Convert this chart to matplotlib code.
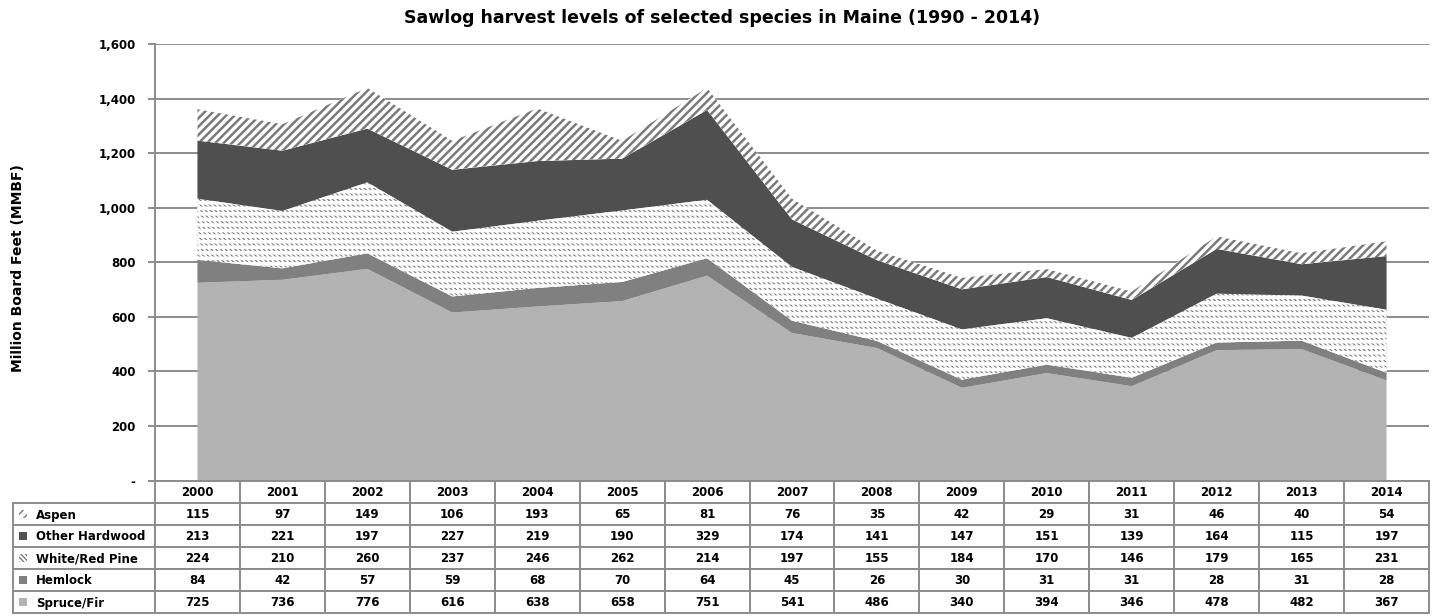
"""Sawlog harvest levels in Maine: stacked area chart with data table."""

import matplotlib

matplotlib.use("Agg")
import matplotlib.pyplot as plt
import numpy as np
from matplotlib.patches import Rectangle
from matplotlib.ticker import FuncFormatter

YEARS = ["2000", "2001", "2002", "2003", "2004", "2005", "2006", "2007",
         "2008", "2009", "2010", "2011", "2012", "2013", "2014"]
SPRUCE_FIR = [725, 736, 776, 616, 638, 658, 751, 541, 486, 340, 394, 346, 478, 482, 367]
HEMLOCK = [84, 42, 57, 59, 68, 70, 64, 45, 26, 30, 31, 31, 28, 31, 28]
WHITE_RED_PINE = [224, 210, 260, 237, 246, 262, 214, 197, 155, 184, 170, 146, 179, 165, 231]
OTHER_HARDWOOD = [213, 221, 197, 227, 219, 190, 329, 174, 141, 147, 151, 139, 164, 115, 197]
ASPEN = [115, 97, 149, 106, 193, 65, 81, 76, 35, 42, 29, 31, 46, 40, 54]

TITLE = "Sawlog harvest levels of selected species in Maine (1990 - 2014)"
Y_LABEL = "Million Board Feet (MMBF)"
Y_TICKS = [0, 200, 400, 600, 800, 1000, 1200, 1400, 1600]

W, H = 1445, 616
GRID = "#8c8c8c"
HATCH = "#7a7a7a"
FONT = "DejaVu Sans"
PINE_HATCH = "\\" * 7
ASPEN_HATCH = "////"

# bottom-to-top stacking order, table is listed top-to-bottom
layers = [
    ("Spruce/Fir", SPRUCE_FIR, dict(face="#b3b3b3", hatch=None, lw=0)),
    ("Hemlock", HEMLOCK, dict(face="#808080", hatch=None, lw=0)),
    ("White/Red Pine", WHITE_RED_PINE, dict(face="white", hatch=PINE_HATCH, lw=0.9)),
    ("Other Hardwood", OTHER_HARDWOOD, dict(face="#4f4f4f", hatch=None, lw=0)),
    ("Aspen", ASPEN, dict(face="white", hatch=ASPEN_HATCH, lw=1.8)),
]


def fx(px):
    return px / W


def fy(py):
    return 1 - py / H


def style_hatch(artist, hatch, color, lw):
    artist.set_hatch(hatch)
    artist.set_edgecolor(color)
    artist.set_linewidth(0)
    if hasattr(artist, "set_hatch_linewidth"):
        artist.set_hatch_linewidth(lw)


plt.rcParams["font.family"] = [FONT]
plt.rcParams["hatch.linewidth"] = 1.3

ax_left, ax_right, ax_top, ax_bottom = 155, 1429, 44, 480.6
fig = plt.figure(figsize=(W / 100, H / 100), dpi=100)
ax = fig.add_axes([fx(ax_left), fy(ax_bottom), fx(ax_right - ax_left),
                   (ax_bottom - ax_top) / H])

x = np.arange(len(YEARS))
series = [np.array(v) for _, v, _ in layers]
polys = ax.stackplot(x, *series, colors=[s["face"] for _, _, s in layers],
                     linewidth=0, zorder=2)
for poly, (_, _, st) in zip(polys, layers):
    poly.set_linewidth(0)
    if st["hatch"]:
        style_hatch(poly, st["hatch"], HATCH, st["lw"])

# break the pine diagonals into short dashes
tops = np.cumsum(series, axis=0)
cut = ax.fill_between(x, tops[1], tops[2], facecolor="none", zorder=3)
style_hatch(cut, "---", "white", 2.6)

ax.set_xlim(-0.5, len(YEARS) - 0.5)
ax.set_ylim(0, 1600)
ax.set_yticks(Y_TICKS)
ax.yaxis.set_major_formatter(FuncFormatter(lambda v, _: "-" if v == 0 else f"{int(v):,}"))
ax.set_xticks([])
ax.grid(axis="y", color=GRID, linewidth=1.4, zorder=0)
ax.set_axisbelow(True)
for side in ("top", "right", "bottom"):
    ax.spines[side].set_visible(False)
ax.spines["left"].set_color(GRID)
ax.spines["left"].set_linewidth(1.4)
ax.tick_params(axis="y", color=GRID, width=1.4, length=5, pad=9,
               labelsize=8.5)
for lab in ax.get_yticklabels():
    lab.set_fontweight("bold")

fig.text(0.5, fy(18), TITLE, ha="center", va="center", fontsize=12.5,
         fontweight="bold")
fig.text(fx(18), fy(268), Y_LABEL, ha="center", va="center", rotation=90,
         fontsize=10, fontweight="bold")

# data table
tbl_top, row_h = 481, 22
lab_left = 13
col_w = (ax_right - ax_left) / len(YEARS)
cell_kw = dict(facecolor="white", edgecolor=GRID, linewidth=1.4,
               transform=fig.transFigure, clip_on=False)
text_kw = dict(fontsize=8.5, fontweight="bold", va="center")

for j, year in enumerate(YEARS):
    x0 = ax_left + j * col_w
    fig.add_artist(Rectangle((fx(x0), fy(tbl_top + row_h)), fx(col_w),
                             row_h / H, **cell_kw))
    fig.text(fx(x0 + col_w / 2), fy(tbl_top + row_h / 2 + 1), year,
             ha="center", **text_kw)

for i, (name, values, st) in enumerate(reversed(layers)):
    y0 = tbl_top + row_h * (i + 1)
    fig.add_artist(Rectangle((fx(lab_left), fy(y0 + row_h)),
                             fx(ax_left - lab_left), row_h / H, **cell_kw))
    key = Rectangle((fx(19), fy(y0 + row_h / 2 + 4)), fx(8), 8 / H,
                    facecolor=st["face"], linewidth=0,
                    transform=fig.transFigure)
    if st["hatch"]:
        style_hatch(key, st["hatch"], HATCH, 1.0)
    fig.add_artist(key)
    fig.text(fx(36), fy(y0 + row_h / 2 + 1), name, ha="left", **text_kw)
    for j, v in enumerate(values):
        x0 = ax_left + j * col_w
        fig.add_artist(Rectangle((fx(x0), fy(y0 + row_h)), fx(col_w),
                                 row_h / H, **cell_kw))
        fig.text(fx(x0 + col_w / 2), fy(y0 + row_h / 2 + 1), str(v),
                 ha="center", **text_kw)

fig.savefig("out.png", dpi=100)
